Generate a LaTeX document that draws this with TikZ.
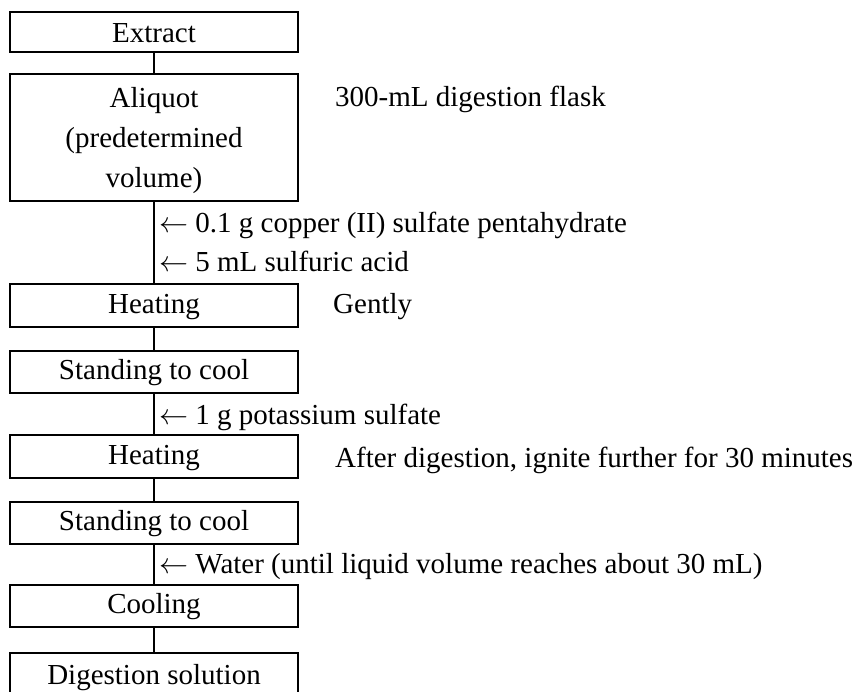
\RequirePackage{fix-cm}
\documentclass[tikz,border=0pt]{standalone}
\usepackage{fontspec}
\setmainfont{Liberation Serif}
\tikzset{
  boxbase/.style={draw, line width=2.8pt, minimum width=288pt, inner sep=0pt,
    font=\fontsize{29}{40}\selectfont},
  stepbox/.style={boxbase, text height=20pt, text depth=5pt},
  lbl/.style={anchor=base west, inner sep=0pt, font=\fontsize{29}{40}\selectfont},
  conn/.style={line width=2.8pt}
}
\begin{document}
\begin{tikzpicture}[x=1pt,y=-1pt]
\path[use as bounding box] (0,0) rectangle (856,692);
\clip (0,0) rectangle (856,692);
\node[boxbase, minimum height=40pt, text height=24pt, text depth=2pt] (extract) at (154,32) {Extract};
\node[boxbase, minimum height=127pt, align=center] (aliquot) at (154,137.5) {\rule{0pt}{27pt}Aliquot\\(predetermined\\volume)};
\node[stepbox, minimum height=43pt] (heat1) at (154,305.5) {Heating};
\node[stepbox, minimum height=42pt] (cool1) at (154,372) {Standing to cool};
\node[stepbox, minimum height=43pt] (heat2) at (154,456.5) {Heating};
\node[stepbox, minimum height=42pt] (cool2) at (154,523) {Standing to cool};
\node[stepbox, minimum height=42pt] (cooling) at (154,606) {Cooling};
\node[stepbox, minimum height=47pt] (digest) at (154,676.5) {Digestion solution};
\draw[conn] (extract) -- (aliquot);
\draw[conn] (aliquot) -- (heat1);
\draw[conn] (heat1) -- (cool1);
\draw[conn] (cool1) -- (heat2);
\draw[conn] (heat2) -- (cool2);
\draw[conn] (cool2) -- (cooling);
\draw[conn] (cooling) -- (digest);
\node[lbl] (add1) at (159,233) {$\leftarrow$ 0.1 g copper (II) sulfate pentahydrate};
\node[lbl] (add2) at (159,272) {$\leftarrow$ 5 mL sulfuric acid};
\node[lbl] (add3) at (159,424) {$\leftarrow$ 1 g potassium sulfate};
\node[lbl] (add4) at (159,573) {$\leftarrow$ Water (until liquid volume reaches about 30 mL)};
\node[lbl] (note1) at (335,107) {300-mL digestion flask};
\node[lbl] (note2) at (333,313) {Gently};
\node[lbl] (note3) at (335,467) {After digestion, ignite further for 30 minutes};
\end{tikzpicture}
\end{document}
